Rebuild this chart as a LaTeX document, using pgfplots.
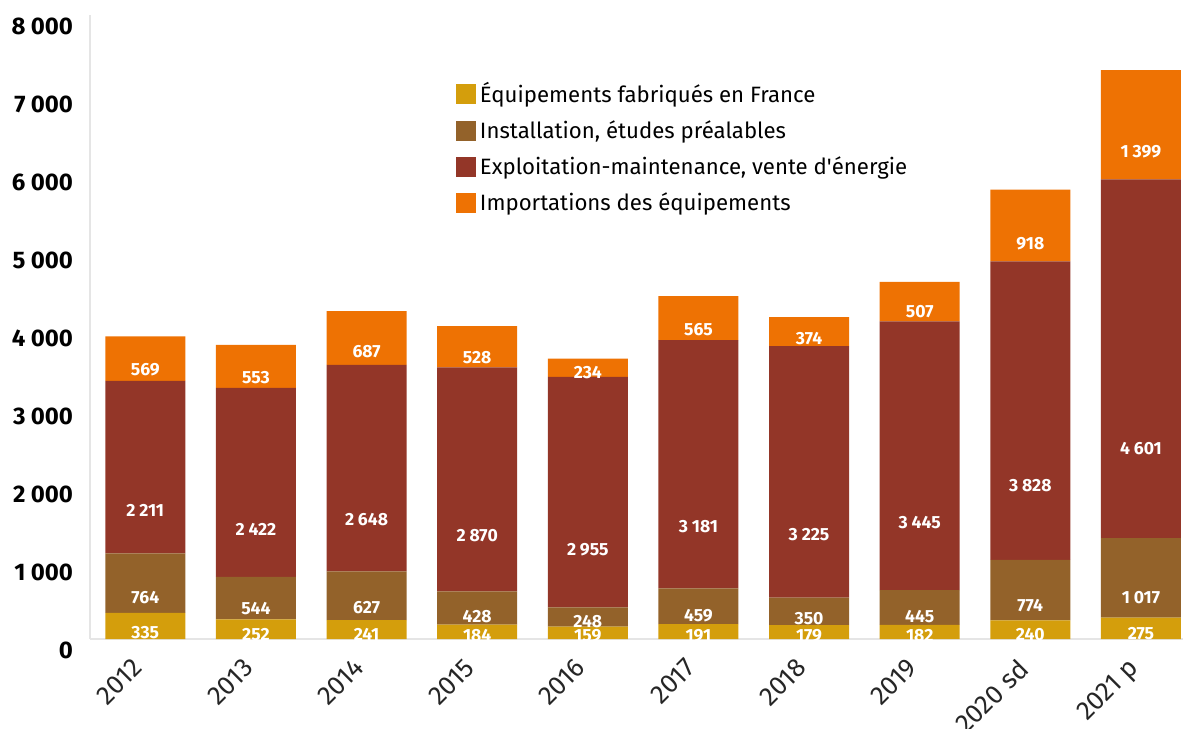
\documentclass[border=0pt]{standalone}
\usepackage{fontspec}
\setmainfont{Fira Sans}
\usepackage{pgfplots}
\pgfplotsset{compat=1.18}
\usepackage{pgfplotstable}

\definecolor{cfab}{HTML}{D49E0C}
\definecolor{cinst}{HTML}{93622A}
\definecolor{cexpl}{HTML}{933628}
\definecolor{cimp}{HTML}{EE7203}

\pgfplotstableread{
i fab inst expl imp
0 335 764 2211 569
1 252 544 2422 553
2 241 627 2648 687
3 184 428 2870 528
4 159 248 2955 234
5 191 459 3181 565
6 179 350 3225 374
7 182 445 3445 507
8 240 774 3828 918
9 275 1017 4601 1399
}\data

\begin{document}
\begin{tikzpicture}
\begin{axis}[
  at={(0,0)}, anchor=south west,
  scale only axis, width=546.5pt, height=312pt,
  ybar stacked, bar width=40pt,
  xmin=-0.5, xmax=9.38, ymin=0, ymax=8000,
  xtick={0,...,9},
  xticklabels={2012,2013,2014,2015,2016,2017,2018,2019,2020 sd,2021 p},
  ytick={0,1000,...,8000},
  axis lines*=left,
  axis line style={draw=black!10, line width=1pt},
  major tick length=0pt,
  /pgf/number format/1000 sep={\hspace{0.22em}},
  /pgf/number format/assume math mode=true,
  yticklabel style={font=\bfseries\fontsize{12}{14}\selectfont, anchor=east, xshift=-5pt, yshift=-5.5pt},
  xticklabel style={font=\fontsize{13.2}{15}\selectfont, text=black!85, yshift=-4pt, xshift=-7pt, rotate=45, anchor=north east},
  nodes near coords,
  every node near coord/.append style={font=\bfseries\fontsize{8.8}{10}\selectfont, text=white, anchor=center, yshift={-0.00975*\rawy}},
  point meta=explicit,
  legend style={at={(0.329,0.905)}, anchor=north west, draw=none, fill=none,
    font=\fontsize{11.1}{13}\selectfont, row sep=3.5pt},
  legend cell align=left,
  legend image code/.code={\fill[#1] (0pt,-5pt) rectangle (10pt,5pt);},
]
\addplot[fill=cfab, draw=none, visualization depends on={\thisrow{fab} \as \rawy}]
  table[x=i, y=fab, meta=fab] {\data};
\addplot[fill=cinst, draw=none, visualization depends on={\thisrow{inst} \as \rawy}]
  table[x=i, y=inst, meta=inst] {\data};
\addplot[fill=cexpl, draw=none, visualization depends on={\thisrow{expl} \as \rawy}]
  table[x=i, y=expl, meta=expl] {\data};
\addplot[fill=cimp, draw=none, visualization depends on={\thisrow{imp} \as \rawy}]
  table[x=i, y=imp, meta=imp] {\data};
\legend{Équipements fabriqués en France, {Installation, études préalables}, Exploitation-maintenance{,} vente d\textquotesingle énergie, Importations des équipements}
\end{axis}
\pgfresetboundingbox
\useasboundingbox (-45pt,-44.5pt) rectangle (546.5pt,319.5pt);
\end{tikzpicture}
\end{document}
